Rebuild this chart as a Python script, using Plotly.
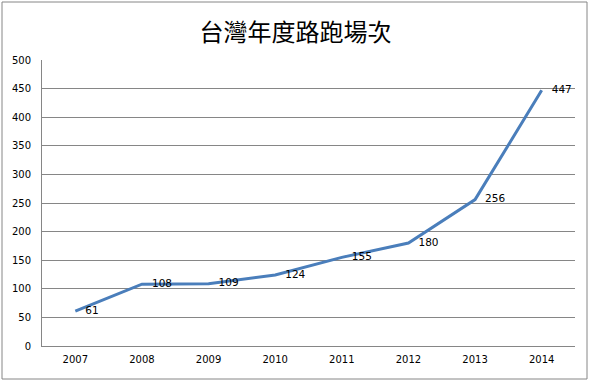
import plotly.graph_objects as go

years = ["2007", "2008", "2009", "2010", "2011", "2012", "2013", "2014"]
counts = [61, 108, 109, 124, 155, 180, 256, 447]
y_ticks = [0, 50, 100, 150, 200, 250, 300, 350, 400, 450, 500]
title = "台灣年度路跑場次"

fig = go.Figure()
fig.add_trace(go.Scatter(
    x=years, y=counts, mode="lines+text",
    text=["\u00a0\u00a0\u00a0" + str(v) for v in counts],
    textposition="middle right",
    textfont=dict(family="DejaVu Sans", size=10.5, color="#000000"),
    line=dict(color="#4A7EBB", width=3),
    cliponaxis=False, hoverinfo="skip",
))

fig.update_layout(
    width=591, height=383,
    margin=dict(l=42, r=16, t=60, b=37),
    paper_bgcolor="white", plot_bgcolor="white",
    showlegend=False,
    title=dict(text=title, x=0.5, xanchor="center", y=0.915, yanchor="middle",
               font=dict(family="Noto Sans CJK TC", size=24, color="#000000")),
    xaxis=dict(type="category", range=[-0.5, 7.5], showgrid=False,
               showline=True, linecolor="#868686", linewidth=1,
               ticks="", ticklabelstandoff=4,
               tickfont=dict(family="DejaVu Sans", size=10, color="#000000")),
    yaxis=dict(range=[0, 500], tickvals=y_ticks, showgrid=True, gridcolor="#868686", gridwidth=1,
               showline=True, linecolor="#868686", linewidth=1, zeroline=False,
               ticks="", ticklabelstandoff=8,
               tickfont=dict(family="DejaVu Sans", size=10, color="#000000")),
    shapes=[dict(type="rect", xref="paper", yref="paper",
                 x0=(2 - 42) / 533, x1=(587 - 42) / 533,
                 y0=-(379 - 346) / 286, y1=1 + (60 - 2) / 286,
                 line=dict(color="#868686", width=1))],
)

fig.write_html("out.html", config={"displayModeBar": False},
               post_script="document.body.style.margin='0';")
